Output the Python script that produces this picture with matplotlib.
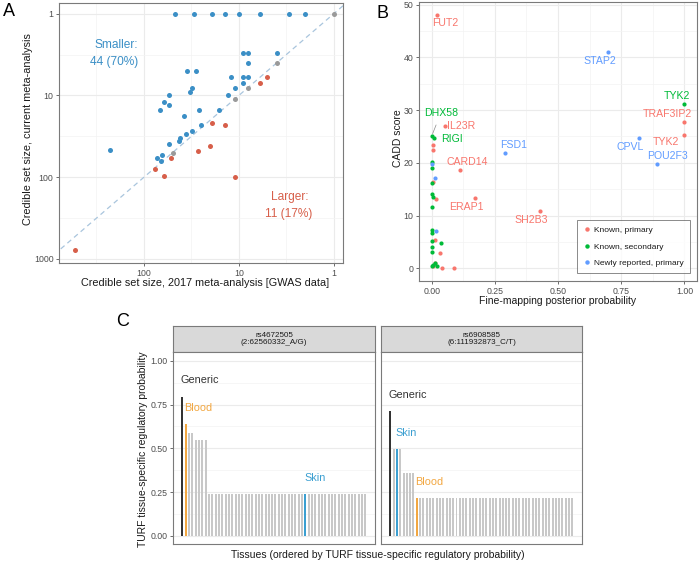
import matplotlib
matplotlib.use("Agg")
import matplotlib.pyplot as plt
from matplotlib.ticker import NullFormatter
from matplotlib.lines import Line2D

plt.rcParams["font.family"] = ["Liberation Sans", "DejaVu Sans"]

# ---- panel A: credible set sizes (2017 vs current) ----
smaller_old = [47, 30, 19, 14, 10, 6, 3, 2, 9, 8, 4, 8, 8, 9, 9, 12, 11, 13, 35, 28,
               31, 33, 55, 61, 55, 67, 26, 16, 38, 31, 25, 36, 42, 43, 55, 230, 64, 73, 66]
smaller_new = [1, 1, 1, 1, 1, 1, 1, 1, 3, 3, 3, 4, 6, 6, 7, 6, 8, 10, 5, 5,
               8, 9, 10, 12, 13, 15, 15, 15, 18, 27, 23, 30, 33, 36, 39, 46, 53, 58, 63]
larger_old = [5, 6, 19, 14, 20, 27, 52, 76, 62, 11, 530]
larger_new = [6, 7, 22, 23, 41, 48, 58, 80, 96, 100, 770]
same_size = [1, 4, 8, 11, 50]

# ---- panel B: CADD vs fine-mapping PP ----
primary_x = [0.020, 0.054, 0.007, 0.007, 0.112, 0.171, 0.428, 1.0, 1.0, 0.007, 0.016,
             0.013, 0.033, 0.013, 0.041, 0.088, 0.007]
primary_y = [48.1, 27.0, 23.3, 22.5, 18.7, 13.4, 10.9, 27.8, 25.3, 16.4, 13.1,
             5.4, 3.0, 1.1, 0.1, 0.0, 0.4]
secondary_x = [1.0, 0.0, 0.009, 0.0, 0.0, 0.0, 0.0, 0.007, 0.0, 0.0, 0.0, 0.0, 0.0,
               0.0, 0.036, 0.0, 0.007, 0.014, 0.020]
secondary_y = [31.1, 25.1, 24.7, 20.2, 19.0, 16.2, 14.1, 13.6, 11.6, 7.3, 6.7, 5.2, 4.1,
               3.1, 4.8, 0.4, 0.7, 1.0, 0.4]
new_x = [0.697, 0.292, 0.821, 0.891, 0.0, 0.013, 0.016]
new_y = [41.1, 21.8, 24.7, 19.8, 19.7, 17.2, 7.1]

gene_labels = ["FUT2", "STAP2", "TYK2", "TRAF3IP2", "IL23R", "RIGI", "TYK2", "FSD1",
               "CPVL", "CARD14", "POU2F3", "ERAP1", "SH2B3"]
gene_groups = ["primary", "new", "secondary", "primary", "primary", "secondary", "primary",
               "new", "new", "primary", "new", "primary", "primary"]
gene_label_x = [0.053, 0.664, 0.970, 0.934, 0.118, 0.079, 0.928, 0.326, 0.787, 0.141,
                0.934, 0.138, 0.395]
gene_label_y = [46.5, 39.3, 32.6, 29.3, 27.0, 24.5, 24.0, 23.3, 23.1, 20.1, 21.3, 11.7, 9.2]

# ---- panel C: TURF tissue-specific probabilities ----
turf_left = [0.795, 0.637, 0.589, 0.589, 0.549, 0.549, 0.549, 0.549] + [0.238] * 48
turf_right = [0.713, 0.494, 0.494, 0.494, 0.361, 0.361, 0.361, 0.361] + [0.215] * 48
left_marks = {0: "Generic", 1: "Blood", 37: "Skin"}
right_marks = {0: "Generic", 2: "Skin", 8: "Blood"}
strip_titles = ["rs4672505\n(2:62560332_A/G)", "rs6908585\n(6:111932873_C/T)"]

BLUE_A, RED_A, GRAY_A = "#3b8fc6", "#d75f4a", "#9a9a9a"
HUE = {"primary": "#F8766D", "secondary": "#00BA38", "new": "#619CFF"}
TISSUE = {"Generic": "#333333", "Blood": "#f2a741", "Skin": "#3b9fd1"}
BAR_GRAY = "#c8c8c8"

fig = plt.figure(figsize=(7, 5.62), dpi=100)


def px_axes(l, t, r, b):
    return fig.add_axes([l / 700, 1 - b / 562, (r - l) / 700, (b - t) / 562])


def style(ax):
    for s in ax.spines.values():
        s.set_color("#7a7a7a")
        s.set_linewidth(0.8)
    ax.tick_params(which="major", length=2.5, width=0.6, color="#555555",
                   labelsize=6.3, labelcolor="#4d4d4d", pad=1.5)
    ax.tick_params(which="minor", length=0)
    ax.set_axisbelow(True)
    ax.grid(which="major", color="#ebebeb", lw=0.8)
    ax.grid(which="minor", color="#f3f3f3", lw=0.5)


# ---------------- A ----------------
axA = px_axes(59, 3, 343, 263)
axA.set_xscale("log")
axA.set_yscale("log")
axA.set_xlim(785, 0.8)
axA.set_ylim(1120, 0.74)
axA.axline((1, 1), (10, 10), color="#a9c5dd", lw=0.9, ls=(0, (4, 3)), zorder=1)
axA.scatter(smaller_old, smaller_new, s=13, color=BLUE_A, lw=0, zorder=3)
axA.scatter(larger_old, larger_new, s=13, color=RED_A, lw=0, zorder=3)
axA.scatter(same_size, same_size, s=13, color=GRAY_A, lw=0, zorder=3)
axA.set_xticks([100, 10, 1], ["100", "10", "1"])
axA.set_yticks([1, 10, 100, 1000], ["1", "10", "100", "1000"])
axA.set_xticks([10 ** 2.5, 10 ** 1.5, 10 ** 0.5], minor=True)
axA.set_yticks([10 ** 0.5, 10 ** 1.5, 10 ** 2.5], minor=True)
axA.xaxis.set_minor_formatter(NullFormatter())
axA.yaxis.set_minor_formatter(NullFormatter())
style(axA)
axA.text(196, 2.44, "Smaller:", color=BLUE_A, fontsize=8.6, ha="center", va="center")
axA.text(204, 3.94, "44 (70%)", color=BLUE_A, fontsize=8.6, ha="center", va="center")
axA.text(2.93, 173, "Larger:", color=RED_A, fontsize=8.6, ha="center", va="center")
axA.text(2.98, 279, "11 (17%)", color=RED_A, fontsize=8.6, ha="center", va="center")
fig.text(28 / 700, 1 - 129 / 562, "Credible set size, current meta-analysis",
         rotation=90, fontsize=7.8, color="#1a1a1a", ha="center", va="center")
fig.text(204.7 / 700, 1 - 282.7 / 562, "Credible set size, 2017 meta-analysis [GWAS data]",
         fontsize=7.8, color="#1a1a1a", ha="center", va="center")
fig.text(9 / 700, 1 - 12 / 562, "A", fontsize=13, ha="center", va="center")

# ---------------- B ----------------
axB = px_axes(419, 2, 697, 281)
axB.set_xlim(-0.05, 1.05)
axB.set_ylim(-2.4, 50.5)
axB.scatter(primary_x, primary_y, s=9, color=HUE["primary"], lw=0, zorder=3)
axB.scatter(secondary_x, secondary_y, s=9, color=HUE["secondary"], lw=0, zorder=3)
axB.scatter(new_x, new_y, s=9, color=HUE["new"], lw=0, zorder=3)
axB.set_xticks([0, 0.25, 0.5, 0.75, 1.0], ["0.00", "0.25", "0.50", "0.75", "1.00"])
axB.set_yticks([0, 10, 20, 30, 40, 50])
axB.set_xticks([0.125, 0.375, 0.625, 0.875], minor=True)
axB.set_yticks([5, 15, 25, 35, 45], minor=True)
style(axB)
for txt, grp, lx, ly in zip(gene_labels, gene_groups, gene_label_x, gene_label_y):
    axB.text(lx, ly, txt, color=HUE[grp], fontsize=7.6, ha="center", va="center", zorder=4)
axB.annotate("DHX58", xy=(0.002, 25.3), xytext=(0.036, 29.4), color=HUE["secondary"],
             fontsize=7.6, ha="center", va="center", zorder=4,
             arrowprops=dict(arrowstyle="-", color="#8a8a8a", lw=0.5, shrinkA=3, shrinkB=1))
handles = [Line2D([], [], marker="o", ls="", markersize=3.2, markeredgewidth=0,
                  color=HUE[k]) for k in ["primary", "secondary", "new"]]
leg = axB.legend(handles, ["Known, primary", "Known, secondary", "Newly reported, primary"],
                 loc="lower right", bbox_to_anchor=(690 / 700, 1 - 273 / 562),
                 bbox_transform=fig.transFigure, fontsize=6, frameon=True, fancybox=False,
                 edgecolor="#555555", labelspacing=1.05, handletextpad=0.4,
                 handlelength=1.0, borderpad=0.7, borderaxespad=0)
leg.get_frame().set_linewidth(0.6)
for t in leg.get_texts():
    t.set_color("#1a1a1a")
fig.text(398 / 700, 1 - 138 / 562, "CADD score", rotation=90, fontsize=7.5,
         color="#1a1a1a", ha="center", va="center")
fig.text(558 / 700, 1 - 301 / 562, "Fine-mapping posterior probability", fontsize=7.5,
         color="#1a1a1a", ha="center", va="center")
fig.text(382 / 700, 1 - 13 / 562, "B", fontsize=13, ha="center", va="center")

# ---------------- C ----------------
facets = [(173, 375, turf_left, left_marks, strip_titles[0]),
          (381, 582, turf_right, right_marks, strip_titles[1])]
for i, (l, r, vals, marks, title) in enumerate(facets):
    strip = px_axes(l, 326, r, 352)
    strip.set_facecolor("#d9d9d9")
    strip.set_xticks([])
    strip.set_yticks([])
    for s in strip.spines.values():
        s.set_color("#7a7a7a")
        s.set_linewidth(0.8)
    strip.text(0.5, 0.5, title, fontsize=5.8, color="#1a1a1a", ha="center", va="center",
               linespacing=1.0, transform=strip.transAxes)

    ax = px_axes(l, 352, r, 544)
    idx = list(range(len(vals)))
    colors = [TISSUE[marks[j]] if j in marks else BAR_GRAY for j in idx]
    ax.bar(idx, vals, width=0.6, color=colors, zorder=2)
    ax.set_xlim(-2.8, 57.9)
    ax.set_ylim(-0.046, 1.05)
    ax.set_yticks([0, 0.25, 0.5, 0.75, 1.0], ["0.00", "0.25", "0.50", "0.75", "1.00"])
    ax.set_yticks([0.125, 0.375, 0.625, 0.875], minor=True)
    ax.set_xticks([])
    style(ax)
    ax.grid(axis="x", which="both", visible=False)
    if i == 1:
        ax.tick_params(axis="y", which="both", left=False, labelleft=False)
    for j, name in marks.items():
        ax.text(j - 0.4, vals[j] + 0.065, name, color=TISSUE[name], fontsize=7.8,
                ha="left", va="bottom")

fig.text(143 / 700, 1 - 449 / 562, "TURF tissue-specific regulatory probability",
         rotation=90, fontsize=7.5, color="#1a1a1a", ha="center", va="center")
fig.text(378 / 700, 1 - 555 / 562,
         "Tissues (ordered by TURF tissue-specific regulatory probability)",
         fontsize=7.5, color="#1a1a1a", ha="center", va="center")
fig.text(123 / 700, 1 - 321 / 562, "C", fontsize=13, ha="center", va="center")

fig.savefig("out.png", dpi=100)
